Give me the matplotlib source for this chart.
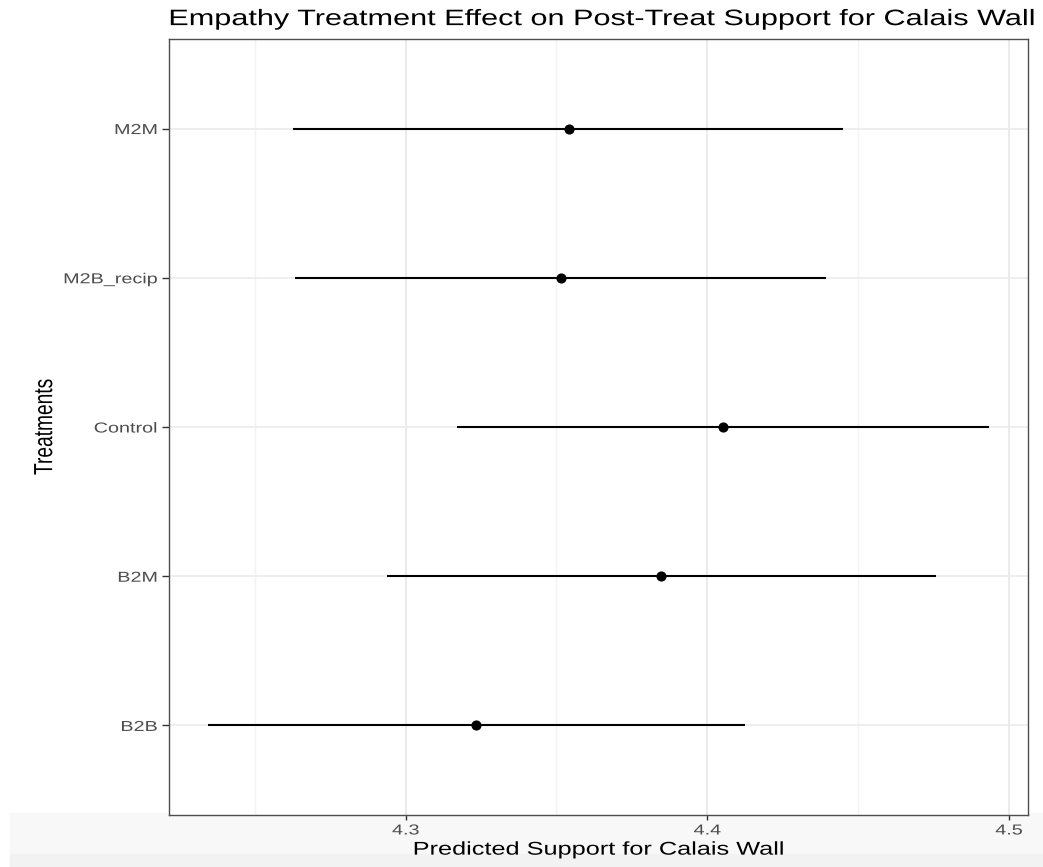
import matplotlib
matplotlib.use("Agg")
import matplotlib.pyplot as plt
from matplotlib.ticker import MultipleLocator
from matplotlib.patheffects import AbstractPathEffect
from matplotlib.transforms import Affine2D

plt.rcParams['font.family'] = ['Liberation Sans', 'DejaVu Sans']

# Predicted support by treatment, with lower/upper interval bounds
treatments = ["B2B", "B2M", "Control", "M2B_recip", "M2M"]
estimate = [4.3233, 4.3847, 4.4053, 4.3516, 4.3542]
lower = [4.2345, 4.2938, 4.3171, 4.2633, 4.2626]
upper = [4.4126, 4.4759, 4.4934, 4.4394, 4.4451]
x_ticks = [4.3, 4.4, 4.5]


class WideText(AbstractPathEffect):
    """Draw text glyphs widened horizontally about an anchor edge."""

    def __init__(self, sx=1.37, anchor="center"):
        super().__init__()
        self.sx = sx
        self.anchor = anchor

    def draw_path(self, renderer, gc, tpath, affine, rgbFace=None):
        ext = tpath.get_extents(affine)
        if self.anchor == "left":
            x0 = ext.x0
        elif self.anchor == "right":
            x0 = ext.x1
        else:
            x0 = 0.5 * (ext.x0 + ext.x1)
        stretch = Affine2D().translate(-x0, 0).scale(self.sx, 1).translate(x0, 0)
        renderer.draw_path(gc, tpath, affine + stretch, rgbFace)


W, H = 1043, 867
fig = plt.figure(figsize=(W / 100, H / 100), dpi=100)
fig.patch.set_facecolor("white")

# light strip behind the x-axis title
fig.patches.append(plt.Rectangle((10 / W, 13 / H), 1 - 10 / W, 41 / H,
                                 transform=fig.transFigure, color="#f8f8f8", zorder=-1))
fig.patches.append(plt.Rectangle((10 / W, 0), 1 - 10 / W, 13 / H,
                                 transform=fig.transFigure, color="#f2f2f2", zorder=-1))

left, right, top, bottom = 169, 1028, 39, 815
ax = fig.add_axes([left / W, 1 - bottom / H, (right - left) / W, (bottom - top) / H])

ypos = list(range(1, len(treatments) + 1))
ax.hlines(ypos, lower, upper, color="black", lw=1.5, zorder=3)
ax.plot(estimate, ypos, "o", color="black", ms=6.3, zorder=4)

span = max(upper) - min(lower)
ax.set_xlim(min(lower) - 0.05 * span, max(upper) + 0.05 * span)
ax.set_ylim(0.4, len(treatments) + 0.6)

ax.set_xticks(x_ticks)
xlabels = ax.set_xticklabels([f"{v:.1f}" for v in x_ticks])
ax.xaxis.set_minor_locator(MultipleLocator(0.05))
ax.set_yticks(ypos)
ylabels = ax.set_yticklabels(treatments)

ax.grid(which="major", axis="x", color="#ebebeb", lw=1.5, zorder=0)
ax.grid(which="major", axis="y", color="#ebebeb", lw=1.2, zorder=0)
ax.grid(which="minor", axis="x", color="#f3f3f3", lw=1.0, zorder=0)
ax.set_axisbelow(True)
ax.tick_params(which="minor", length=0)
ax.tick_params(which="major", width=1.0, color="#333333", labelcolor="#4d4d4d",
               labelsize=10.4)
ax.tick_params(axis="x", length=3.6, pad=2.5)
ax.tick_params(axis="y", length=5.0, pad=3.5)
for s in ax.spines.values():
    s.set_color("#4d4d4d")
    s.set_linewidth(1.0)

xl = ax.set_xlabel("Predicted Support for Calais Wall", fontsize=13.3, color="black",
                   labelpad=3)
yl = ax.set_ylabel("Treatments", fontsize=13.8, color="black", labelpad=25)
tt = ax.set_title("Empathy Treatment Effect on Post-Treat Support for Calais Wall",
                  fontsize=16.1, loc="left", color="black", pad=10)

for t in xlabels:
    t.set_path_effects([WideText(anchor="center")])
for t in ylabels:
    t.set_path_effects([WideText(anchor="right")])
xl.set_path_effects([WideText(anchor="center")])
yl.set_path_effects([WideText(anchor="center")])
tt.set_path_effects([WideText(anchor="left")])

fig.savefig("out.png", dpi=100)
